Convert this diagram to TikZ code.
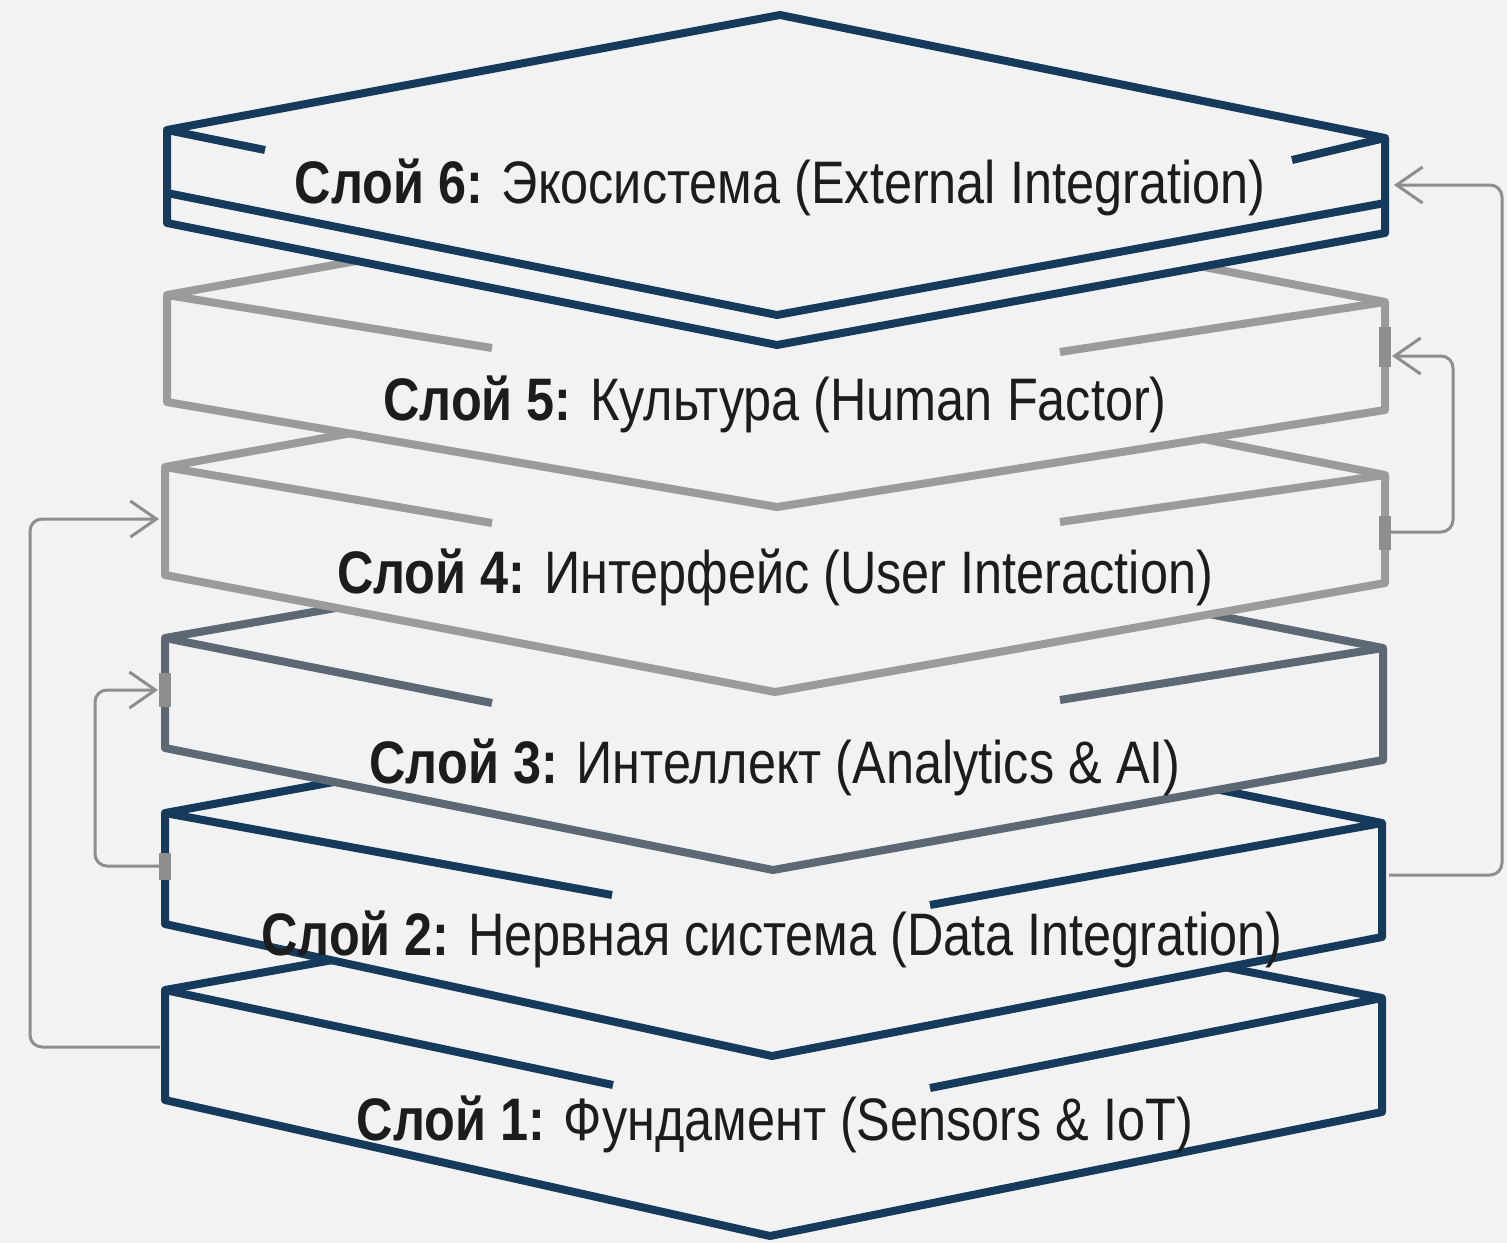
\documentclass[tikz,border=0pt]{standalone}
\usepackage{fontspec}
\setmainfont{Liberation Sans}[FakeStretch=0.84]
\usetikzlibrary{arrows.meta}
\definecolor{navy}{HTML}{163A5C}
\definecolor{slate}{HTML}{5C6873}
\definecolor{pale}{HTML}{9B9B9B}
\definecolor{paper}{HTML}{F2F2F2}
\definecolor{wire}{HTML}{8E8E8E}
\definecolor{ink}{HTML}{1C1C1C}
\newcommand{\layername}[2]{\textbf{Слой #1:} #2}

\begin{document}
\begin{tikzpicture}[x=1pt,y=-1pt]
  \tikzset{
    slab/.style={line width=8pt, line join=round, fill=paper},
    edge/.style={line width=8pt},
    port/.style={line width=12pt, draw=wire},
    link/.style={draw=wire, line width=3pt, rounded corners=12pt,
      -{Straight Barb[length=26pt,width=36pt,line width=3pt]}},
    layertext/.style={font=\fontsize{60}{70}\selectfont, text=ink, inner sep=0pt, anchor=base}
  }
  \fill[paper] (0,0) rectangle (1507,1243);

  % layer 1
  \draw[slab, draw=navy] (165,990) -- (780,880) -- (1382,998) -- (1382,1112) -- (770,1236) -- (165,1100) -- cycle;
  \draw[edge, navy] (165,990) -- (613,1085) (1382,998) -- (930,1088);
  \node[layertext] (t1) at (775,1140) {\layername{1}{Фундамент (Sensors \& IoT)}};
  % layer 2
  \draw[slab, draw=navy] (165,813) -- (780,700) -- (1382,823) -- (1382,937) -- (772,1056) -- (165,924) -- cycle;
  \draw[edge, navy] (165,813) -- (612,895) (1382,823) -- (930,905);
  \node[layertext] (t2) at (772,955) {\layername{2}{Нервная система (Data Integration)}};
  % layer 3
  \draw[slab, draw=slate] (165,638) -- (780,530) -- (1383,648) -- (1383,760) -- (773,870) -- (165,748) -- cycle;
  \draw[edge, slate] (165,638) -- (492,703) (1383,648) -- (1060,700);
  \node[layertext] (t3) at (775,783) {\layername{3}{Интеллект (Analytics \& AI)}};
  % layer 4
  \draw[slab, draw=pale] (165,467) -- (780,355) -- (1385,475) -- (1385,583) -- (775,692) -- (165,575) -- cycle;
  \draw[edge, pale] (165,467) -- (492,523) (1385,475) -- (1060,522);
  \node[layertext] (t4) at (775,593) {\layername{4}{Интерфейс (User Interaction)}};
  % layer 5
  \draw[slab, draw=pale] (167,295) -- (780,185) -- (1385,302) -- (1385,410) -- (777,507) -- (167,402) -- cycle;
  \draw[edge, pale] (167,295) -- (492,348) (1385,302) -- (1060,352);
  \node[layertext] (t5) at (775,420) {\layername{5}{Культура (Human Factor)}};
  % layer 6
  \draw[slab, draw=navy] (167,130) -- (780,15) -- (1385,138) -- (1385,233) -- (777,345) -- (167,223) -- cycle;
  \draw[edge, navy] (167,130) -- (265,150) (1385,138) -- (1292,160);
  \draw[edge, navy, line join=round] (167,193) -- (777,315) -- (1385,203);
  \node[layertext] (t6) at (780,203) {\layername{6}{Экосистема (External Integration)}};

  % ports
  \draw[port] (165,853) -- (165,880);
  \draw[port] (165,673) -- (165,707);
  \draw[port] (1385,516) -- (1385,550);
  \draw[port] (1385,327) -- (1385,367);

  \coordinate (l1w) at (160,1047);
  \coordinate (l2w) at (159,866);
  \coordinate (l3w) at (158,690);
  \coordinate (l4w) at (159,519);
  \coordinate (l2e) at (1389,875);
  \coordinate (l4e) at (1391,532);
  \coordinate (l5e) at (1392,356);
  \coordinate (l6e) at (1394,185);

  \draw[link] (l1w) -- ++(-130,0) |- (l4w);
  \draw[link] (l2w) -- ++(-64,0) |- (l3w);
  \draw[link] (l2e) -- ++(113,0) |- (l6e);
  \draw[link] (l4e) -- ++(62,0) |- (l5e);
\end{tikzpicture}
\end{document}
